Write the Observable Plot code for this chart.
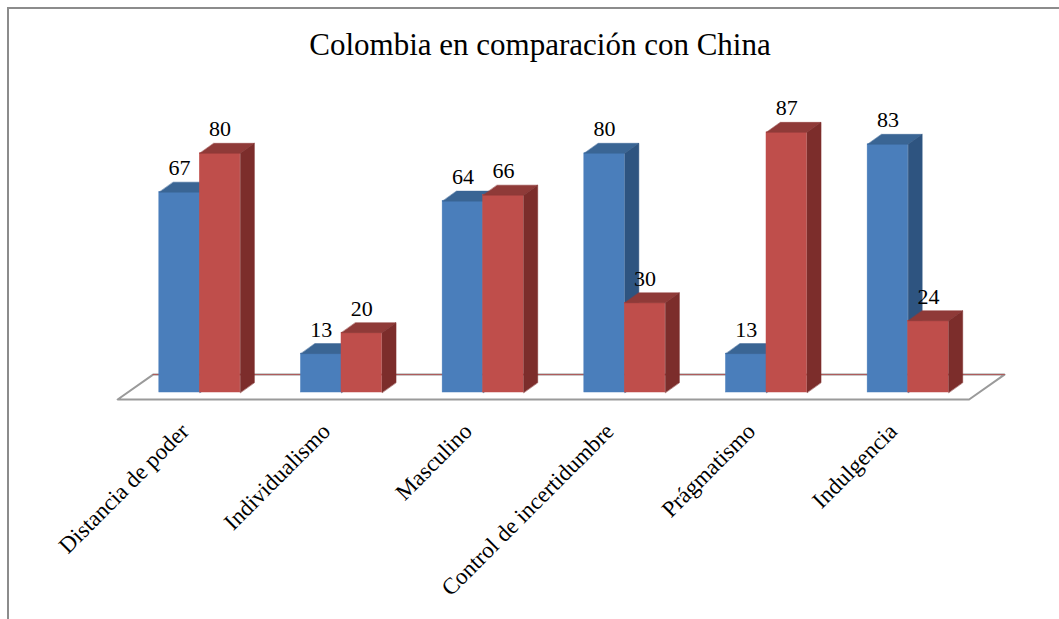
<!DOCTYPE html>
<html>
<head>
<meta charset="utf-8">
<script src="https://cdn.jsdelivr.net/npm/d3@7"></script>
<script src="https://cdn.jsdelivr.net/npm/@observablehq/plot@0.6"></script>
<style>
  html, body { margin: 0; padding: 0; background: #fff; }
  #wrap { position: relative; width: 1059px; height: 619px; overflow: hidden; }
  #frame { position: absolute; left: 7px; top: 7px; right: -10px; bottom: -10px;
           border-left: 2px solid #8c8c8c; border-top: 2px solid #8c8c8c; }
  #title { position: absolute; left: 540px; top: 29px; transform: translateX(-50%);
           font-family: "Liberation Serif", "Times New Roman", serif; font-size: 31px;
           color: #000; white-space: nowrap; line-height: 1; }
  #chart { position: absolute; left: 0; top: 0; }
</style>
</head>
<body>
<div id="wrap">
  <div id="frame"></div>
  <div id="title">Colombia en comparación con China</div>
  <div id="chart"></div>
</div>
<script>
// ---- data ----
const categories = ["Distancia de poder", "Individualismo", "Masculino", "Control de incertidumbre", "Prágmatismo", "Indulgencia"];
const colombia = [67, 13, 64, 80, 13, 83];
const china = [80, 20, 66, 30, 87, 24];
const seriesNames = ["Colombia", "China"];

// ---- styling / geometry (not data) ----
const half = 0.286;      // width of one bar, in category units
const ddx = 0.099;       // depth offset x (category units)
const ddy = 3.35;        // depth offset y (value units)
const colors = {
  Colombia: {front: "#4A7EBB", top: "#3A6594", side: "#2E5480"},
  China:    {front: "#BF4E4B", top: "#8F3A38", side: "#7C2D2B"}
};
const serif = "Liberation Serif, Times New Roman, serif";

function barsFor(si) {
  const vals = si === 0 ? colombia : china;
  return categories.map((c, i) => {
    const x0 = i - half + si * half;
    return {cat: c, i, series: seriesNames[si], v: vals[i], x0, x1: x0 + half};
  });
}
function topPolys(bars) {
  return bars.flatMap(b => [
    {k: b.cat, x: b.x0, y: b.v}, {k: b.cat, x: b.x1, y: b.v},
    {k: b.cat, x: b.x1 + ddx, y: b.v + ddy}, {k: b.cat, x: b.x0 + ddx, y: b.v + ddy}
  ]);
}
function sidePolys(bars) {
  return bars.flatMap(b => [
    {k: b.cat, x: b.x1, y: 0}, {k: b.cat, x: b.x1, y: b.v},
    {k: b.cat, x: b.x1 + ddx, y: b.v + ddy}, {k: b.cat, x: b.x1 + ddx, y: ddy}
  ]);
}
function barMarks(si) {
  const bars = barsFor(si);
  const col = colors[seriesNames[si]];
  return [
    Plot.rectY(bars, {x1: "x0", x2: "x1", y1: 0, y2: "v", fill: col.front, stroke: col.front, strokeWidth: 0.5}),
    Plot.line(topPolys(bars), {x: "x", y: "y", z: "k", fill: col.top, stroke: col.top, strokeWidth: 0.5, curve: "linear-closed"}),
    Plot.line(sidePolys(bars), {x: "x", y: "y", z: "k", fill: col.side, stroke: col.side, strokeWidth: 0.5, curve: "linear-closed"}),
    Plot.text(bars, {x: d => (d.x0 + d.x1) / 2, y: "v", text: d => String(d.v), lineAnchor: "bottom", dy: -17,
      fontSize: 22, fontFamily: serif, fill: "#000"})
  ];
}

// floor platform (decoration), category-unit / value-unit corners
const floorFront = [-0.58, 5.43], floorDepthX = 0.25, floorY = [-2.35, 6.0];
const floorPoly = [
  {x: floorFront[0], y: floorY[0]}, {x: floorFront[1], y: floorY[0]},
  {x: floorFront[1] + floorDepthX, y: floorY[1]}, {x: floorFront[0] + floorDepthX, y: floorY[1]}
];

const chart = Plot.plot({
  width: 1059,
  height: 619,
  marginLeft: 128.5,
  marginRight: 80.5,
  marginTop: 93,
  marginBottom: 227,
  x: {type: "linear", domain: [-0.5, 5.5]},
  y: {domain: [0, 100], axis: null},
  style: {background: "transparent", overflow: "visible"},
  marks: [
    Plot.line(floorPoly, {x: "x", y: "y", fill: "#fff", stroke: "#9a9a9a", strokeWidth: 2, curve: "linear-closed"}),
    Plot.line(floorPoly.slice(2), {x: "x", y: "y", stroke: "#b05a5a", strokeWidth: 1}),
    ...barMarks(0),
    ...barMarks(1),
    Plot.axisX({ticks: d3.range(categories.length), tickFormat: i => categories[i], tickRotate: -45,
      tickSize: 0, tickPadding: 35, dx: -15, fontSize: 23, fontFamily: serif, label: null, stroke: null})
  ]
});
document.getElementById("chart").appendChild(chart);
</script>
</body>
</html>
